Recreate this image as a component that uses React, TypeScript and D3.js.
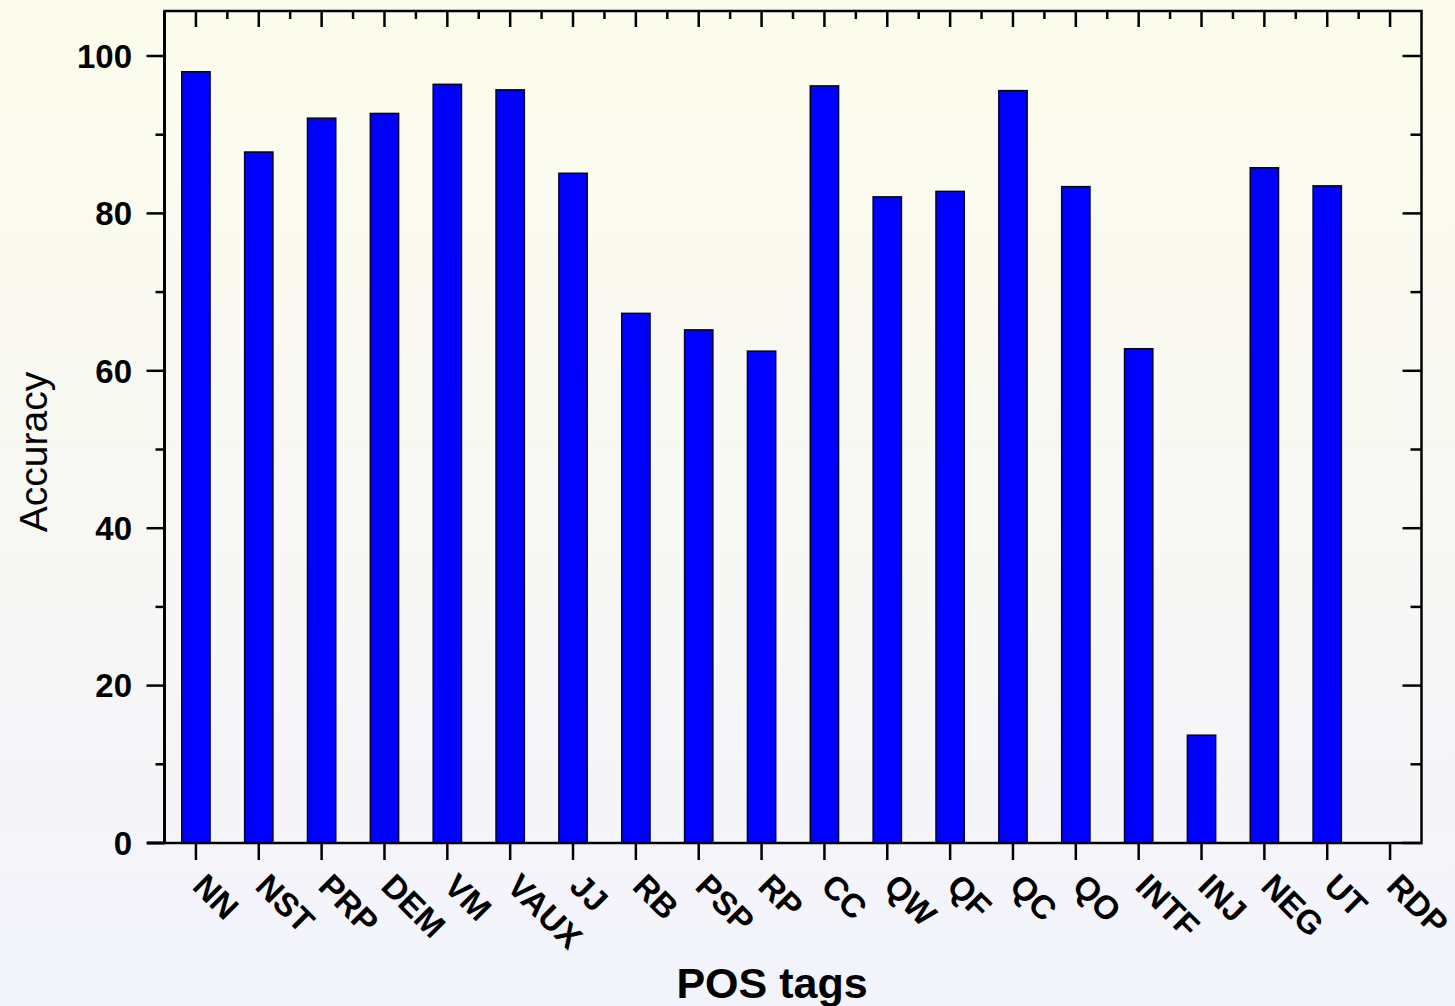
import React from "react";
import * as d3 from "d3";

const categories = ["NN","NST","PRP","DEM","VM","VAUX","JJ","RB","PSP","RP","CC","QW","QF","QC","QO","INTF","INJ","NEG","UT","RDP"];
const accuracy = [98.0,87.8,92.1,92.7,96.4,95.7,85.1,67.3,65.2,62.5,96.2,82.1,82.8,95.6,83.4,62.8,13.7,85.8,83.5,0];
const yMajorTicks = [0,20,40,60,80,100];
const yMinorTicks = [10,30,50,70,90];

const W = 1455, H = 1006;
const left = 164.5, right = 1421.5, top = 11, bottom = 843;

export default function App() {
  const x = d3.scaleBand<string>().domain(categories).range([left, right]).paddingInner(0).paddingOuter(0);
  const y = d3.scaleLinear().domain([0, 100]).range([bottom, 56]);
  const step = x.step();
  const bw = step * 0.45;
  const font = "Arial, 'Liberation Sans', Helvetica, sans-serif";
  const boundaries = categories.slice(1).map((c) => x(c) as number);

  return (
    <svg width={W} height={H} style={{ position: "absolute", left: 0, top: 0 }} xmlns="http://www.w3.org/2000/svg">
      <defs>
        <linearGradient id="bg" x1="0" y1="0" x2="0" y2="1">
          <stop offset="0" stopColor="#fcfcec" />
          <stop offset="1" stopColor="#f3f3fc" />
        </linearGradient>
      </defs>
      <rect x={0} y={0} width={W} height={H} fill="url(#bg)" />

      {categories.map((c, i) => (
        accuracy[i] > 0 ? (
          <rect key={c}
            x={(x(c) as number) + step / 2 - bw / 2}
            y={y(accuracy[i])}
            width={bw}
            height={bottom - y(accuracy[i])}
            fill="#0000ff"
            stroke="#000033"
            strokeWidth={1.5} />
        ) : null
      ))}

      {/* frame */}
      <rect x={left} y={top} width={right - left} height={bottom - top} fill="none" stroke="#000" strokeWidth={2.5} />
      <line x1={147} x2={left} y1={bottom} y2={bottom} stroke="#000" strokeWidth={3} />
      <line x1={left} x2={left} y1={top} y2={bottom} stroke="#000" strokeWidth={3} />

      {/* y ticks left + right */}
      {yMajorTicks.map((t) => (
        <g key={"ym" + t}>
          <line x1={left - 18} x2={left} y1={y(t)} y2={y(t)} stroke="#000" strokeWidth={2.5} />
          <line x1={right - 19} x2={right} y1={y(t)} y2={y(t)} stroke="#000" strokeWidth={2.5} />
          <text x={132} y={y(t)} dy="0.36em" textAnchor="end" fontFamily={font} fontWeight="bold" fontSize={33} fill="#000">{t}</text>
        </g>
      ))}
      {yMinorTicks.map((t) => (
        <g key={"yn" + t}>
          <line x1={left - 9} x2={left} y1={y(t)} y2={y(t)} stroke="#000" strokeWidth={2.5} />
          <line x1={right - 11} x2={right} y1={y(t)} y2={y(t)} stroke="#000" strokeWidth={2.5} />
        </g>
      ))}

      {/* x ticks */}
      {categories.map((c) => {
        const cx = (x(c) as number) + step / 2;
        return (
          <g key={"xt" + c}>
            <line x1={cx} x2={cx} y1={bottom} y2={bottom + 17} stroke="#000" strokeWidth={2.5} />
            <line x1={cx} x2={cx} y1={top} y2={top + 16} stroke="#000" strokeWidth={2.5} />
            <text transform={`translate(${cx - 5},${bottom + 45}) rotate(45)`} textAnchor="start"
              fontFamily={font} fontWeight="bold" fontSize={33} fill="#000">{c}</text>
          </g>
        );
      })}
      {boundaries.map((b, i) => (
        <line key={"xb" + i} x1={b} x2={b} y1={top} y2={top + 8} stroke="#000" strokeWidth={2.5} />
      ))}

      {/* titles */}
      <text x={772} y={998} textAnchor="middle" fontFamily={font} fontWeight="bold" fontSize={43} fill="#000">POS tags</text>
      <text transform={`translate(47,${452}) rotate(-90)`} textAnchor="middle" fontFamily={font} fontSize={39} fill="#000">Accuracy</text>
    </svg>
  );
}
